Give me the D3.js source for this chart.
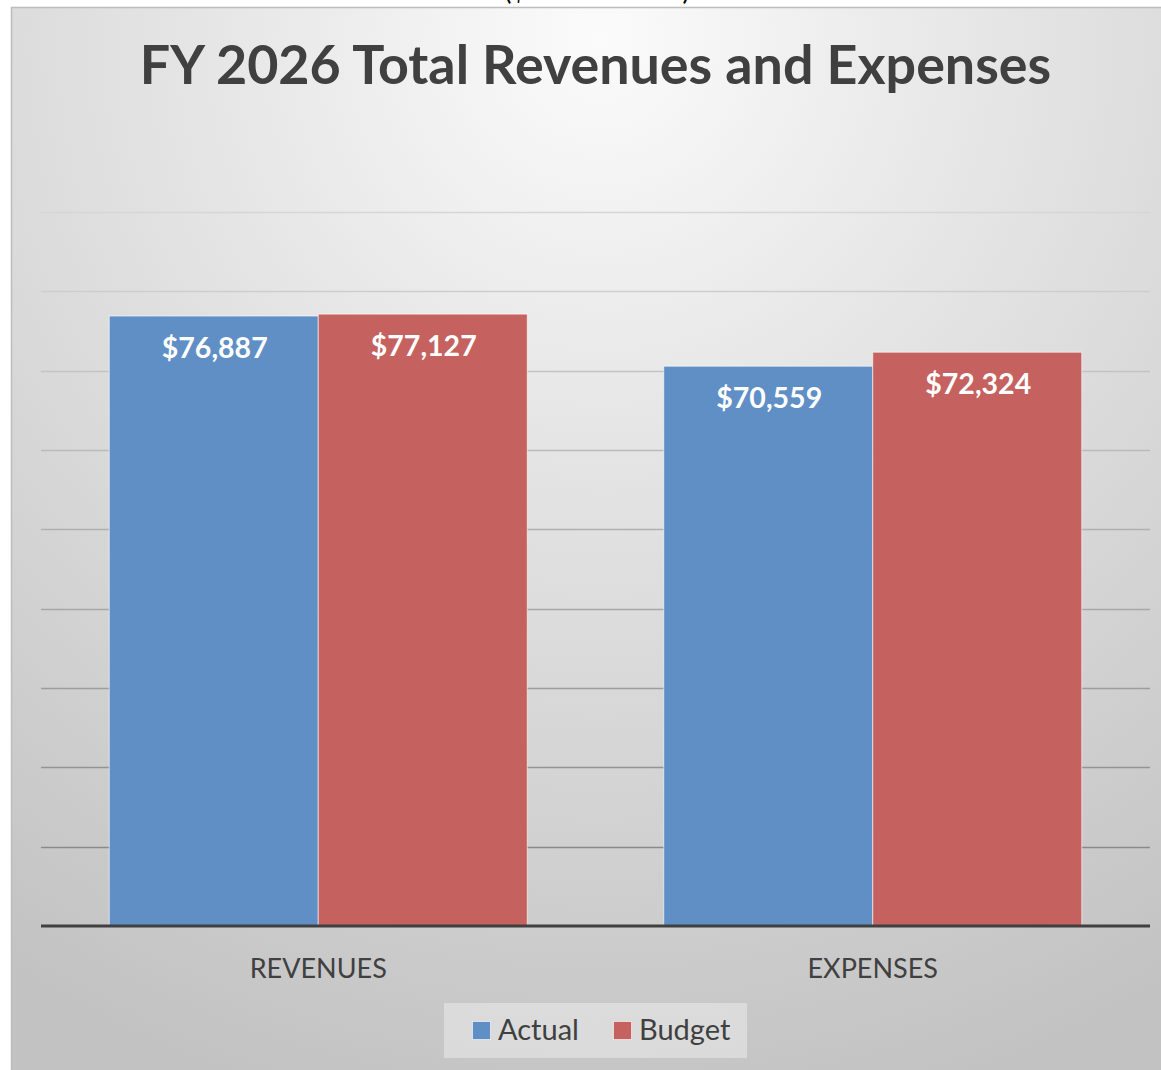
<!DOCTYPE html>
<html>
<head>
<meta charset="utf-8">
<script src="https://cdn.jsdelivr.net/npm/d3@7"></script>
<style>
    html, body { margin: 0; padding: 0; background: #fff; }
    svg { display: block; font-family: Lato, "Open Sans", sans-serif; }
</style>
</head>
<body>
<svg id="canvas" width="1161" height="1070"></svg>
<script>
const categories = ["REVENUES", "EXPENSES"];
const seriesNames = ["Actual", "Budget"];
const actualValues = [76887, 70559];
const budgetValues = [77127, 72324];
const tickValues = [10000, 20000, 30000, 40000, 50000, 60000, 70000, 80000, 90000];
const colors = { Actual: "#608fc6", Budget: "#c5625f" };

const svg = d3.select("#canvas");
const W = 1161, H = 1070;

// Background gradient, light at top centre
const defs = svg.append("defs");
const grad = defs.append("radialGradient")
    .attr("id", "bg")
    .attr("gradientUnits", "userSpaceOnUse")
    .attr("cx", 600).attr("cy", 40)
    .attr("r", 1100);
grad.append("stop").attr("offset", "0%").attr("stop-color", "#fbfbfb");
grad.append("stop").attr("offset", "35%").attr("stop-color", "#e6e6e6");
grad.append("stop").attr("offset", "100%").attr("stop-color", "#c2c2c2");

// subtitle, mostly cut off by the top edge as in the original
svg.append("text")
    .attr("x", 597).attr("y", 0)
    .attr("text-anchor", "middle")
    .attr("font-size", 26)
    .attr("fill", "#000")
    .text("($ in Thousands)");

svg.append("rect")
    .attr("x", 11.5).attr("y", 7.5)
    .attr("width", W + 20).attr("height", H + 20)
    .attr("fill", "url(#bg)")
    .attr("stroke", "#bdbdbd")
    .attr("stroke-width", 1.5);

const plot = { left: 41, right: 1150, top: 212, bottom: 926 };

const x0 = d3.scaleBand().domain(categories).range([plot.left, plot.right]);
const x1 = d3.scaleBand().domain(seriesNames)
    .range([0, x0.bandwidth()])
    .paddingInner(0)
    .paddingOuter(0.3266);
const y = d3.scaleLinear().domain([0, 90000]).range([plot.bottom, plot.top]);

// Gridlines
svg.append("g")
    .selectAll("line")
    .data(tickValues)
    .join("line")
    .attr("x1", plot.left).attr("x2", plot.right)
    .attr("y1", d => Math.round(y(d)) + 0.5)
    .attr("y2", d => Math.round(y(d)) + 0.5)
    .attr("stroke", (d, i) => d3.interpolateRgb("#d6d6d6", "#8a8a8a")(1 - i / 8))
    .attr("stroke-width", 1.5);

const rows = categories.map((c, i) => ({
    category: c,
    values: [
        { series: "Actual", value: actualValues[i] },
        { series: "Budget", value: budgetValues[i] }
    ]
}));

const groups = svg.append("g")
    .selectAll("g")
    .data(rows)
    .join("g")
    .attr("transform", d => `translate(${x0(d.category)},0)`);

groups.selectAll("rect")
    .data(d => d.values)
    .join("rect")
    .attr("x", d => x1(d.series))
    .attr("y", d => y(d.value))
    .attr("width", x1.bandwidth())
    .attr("height", d => plot.bottom - y(d.value))
    .attr("fill", d => colors[d.series])
    .attr("stroke", "rgba(255,255,255,0.6)")
    .attr("stroke-width", 1);

groups.selectAll("text")
    .data(d => d.values)
    .join("text")
    .attr("x", d => x1(d.series) + x1.bandwidth() / 2 + 1)
    .attr("y", d => y(d.value) + 42)
    .attr("text-anchor", "middle")
    .attr("font-size", 28.5)
    .attr("font-weight", "bold")
    .attr("fill", "#fff")
    .text(d => "$" + d3.format(",")(d.value));

// Baseline axis
svg.append("line")
    .attr("x1", plot.left).attr("x2", plot.right)
    .attr("y1", plot.bottom).attr("y2", plot.bottom)
    .attr("stroke", "#404040")
    .attr("stroke-width", 3);

// Category labels
const xAxis = svg.append("g")
    .attr("transform", `translate(0,${plot.bottom})`)
    .call(d3.axisBottom(x0).tickSize(0).tickPadding(0));
xAxis.select(".domain").remove();
xAxis.selectAll("text")
    .attr("dy", null)
    .attr("y", 52)
    .attr("font-family", "Lato, 'Open Sans', sans-serif")
    .attr("font-size", 27)
    .attr("fill", "#404040");

// Title
svg.append("text")
    .attr("x", (plot.left + plot.right) / 2)
    .attr("y", 84)
    .attr("text-anchor", "middle")
    .attr("font-size", 53.8)
    .attr("font-weight", "bold")
    .attr("fill", "#404040")
    .text("FY 2026 Total Revenues and Expenses");

// Legend
const legend = svg.append("g").attr("transform", "translate(444,1003)");
legend.append("rect")
    .attr("width", 303).attr("height", 55)
    .attr("fill", "rgba(235,235,235,0.55)");
const items = legend.selectAll("g.item")
    .data(seriesNames)
    .join("g")
    .attr("class", "item")
    .attr("transform", (d, i) => `translate(${i === 0 ? 28 : 169},0)`);
items.append("rect")
    .attr("x", 0.5).attr("y", 18.5)
    .attr("width", 18).attr("height", 18)
    .attr("fill", d => colors[d])
    .attr("stroke", "rgba(255,255,255,0.6)");
items.append("text")
    .attr("x", 26).attr("y", 37)
    .attr("font-size", 29)
    .attr("fill", "#404040")
    .text(d => d);
</script>
</body>
</html>
